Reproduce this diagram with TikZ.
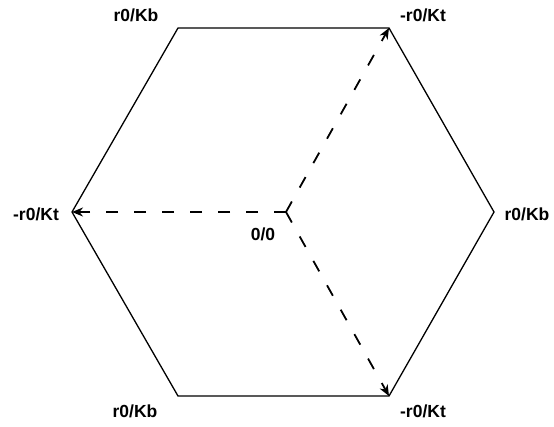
\documentclass[tikz,border=0pt]{standalone}
\usepackage{fontspec}
\setmainfont{Liberation Sans}
\usetikzlibrary{arrows.meta}

\begin{document}
\begin{tikzpicture}[x=1pt,y=-1pt,lbl/.style={font=\fontsize{17.5}{20}\selectfont\bfseries,inner sep=0pt},
  ray/.style={dashed,dash pattern=on 12pt off 16pt,line width=1.8pt,-{Stealth[length=11pt,width=9pt]}}]
\useasboundingbox (0,0) rectangle (554,426);
\coordinate (o) at (286,212);
\coordinate (tl) at (178,28);\coordinate (tr) at (389,28);\coordinate (r) at (494,212);
\coordinate (br) at (389,396);\coordinate (bl) at (178,396);\coordinate (l) at (72,212);
\draw[line width=1.3pt] (tl)--(tr)--(r)--(br)--(bl)--(l)--cycle;
\foreach \p in {tr,l,br}{\draw[ray] (o)--(\p);}
\node[lbl] (ntl) at (136,15){r0/Kb};\node[lbl] (ntr) at (423,15){-r0/Kt};
\node[lbl] (nl) at (36,214){-r0/Kt};\node[lbl] (nr) at (527,214){r0/Kb};
\node[lbl] (nbl) at (135,411){r0/Kb};\node[lbl] (nbr) at (423,411){-r0/Kt};
\node[lbl] (no) at (263,234){0/0};
\end{tikzpicture}
\end{document}
